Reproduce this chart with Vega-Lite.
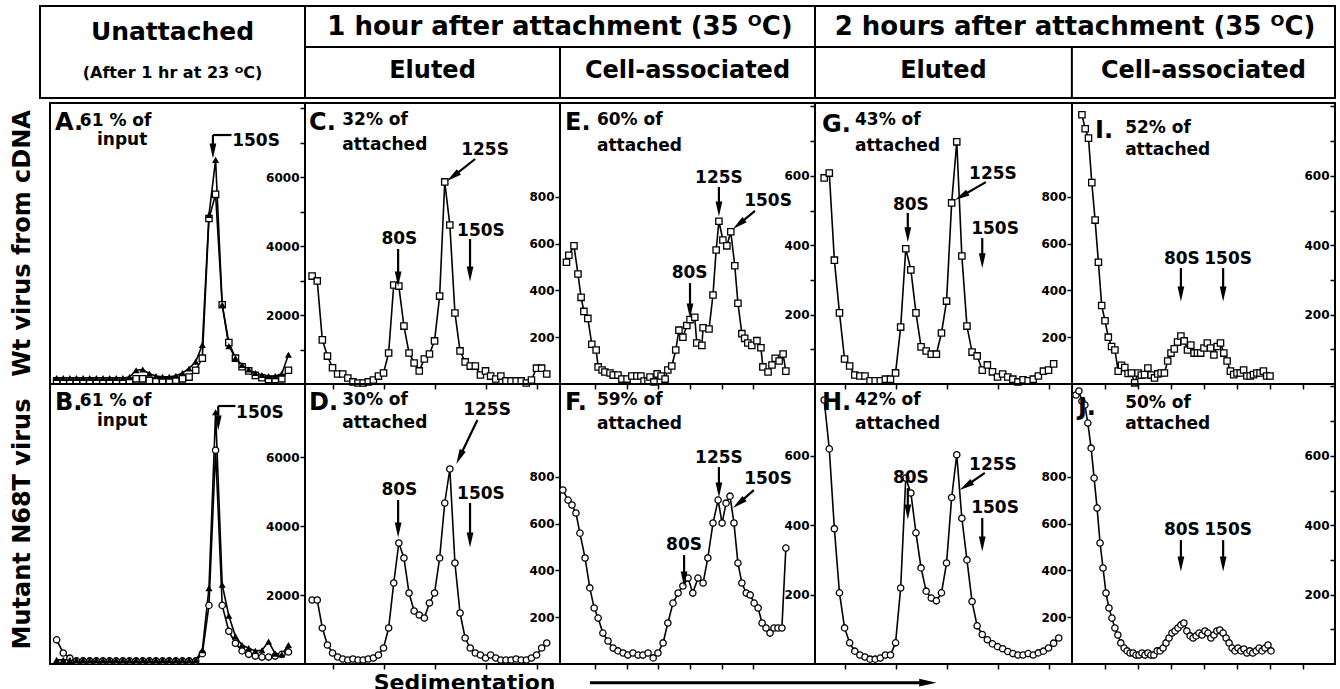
{
"$schema":"https://vega.github.io/schema/vega-lite/v6.json",
"background":"white",
"padding":{"left":0,"top":5,"right":5,"bottom":0},
"spacing":0,
"bounds":"full",
"config":{
 "view":{"stroke":"black","strokeWidth":2},
 "text":{"font":"DejaVu Sans","fontWeight":"bold","color":"black"},
 "axis":{"grid":false,"domain":false,"labelFont":"DejaVu Sans","labelFontWeight":"bold","labelFontSize":12,"labelColor":"black","tickColor":"black","tickWidth":1.5,"tickSize":5,"labelPadding":1,"labelOverlap":false}
},
"datasets":{
"pts":[
{"p":"A1","f":1,"v":175},{"p":"A1","f":2,"v":175},{"p":"A1","f":3,"v":175},{"p":"A1","f":4,"v":175},{"p":"A1","f":5,"v":175},{"p":"A1","f":6,"v":175},{"p":"A1","f":7,"v":175},{"p":"A1","f":8,"v":175},{"p":"A1","f":9,"v":175},{"p":"A1","f":10,"v":175},{"p":"A1","f":11,"v":175},{"p":"A1","f":12,"v":200},{"p":"A1","f":13,"v":400},{"p":"A1","f":14,"v":420},{"p":"A1","f":15,"v":300},{"p":"A1","f":16,"v":230},{"p":"A1","f":17,"v":210},{"p":"A1","f":18,"v":210},{"p":"A1","f":19,"v":240},{"p":"A1","f":20,"v":320},{"p":"A1","f":21,"v":450},{"p":"A1","f":22,"v":650},{"p":"A1","f":23,"v":1130},{"p":"A1","f":24,"v":4900},{"p":"A1","f":25,"v":6500},{"p":"A1","f":26,"v":2300},{"p":"A1","f":27,"v":1100},{"p":"A1","f":28,"v":750},{"p":"A1","f":29,"v":550},{"p":"A1","f":30,"v":420},{"p":"A1","f":31,"v":320},{"p":"A1","f":32,"v":260},{"p":"A1","f":33,"v":230},{"p":"A1","f":34,"v":230},{"p":"A1","f":35,"v":300},{"p":"A1","f":36,"v":850},
{"p":"A2","f":1,"v":90},{"p":"A2","f":2,"v":90},{"p":"A2","f":3,"v":90},{"p":"A2","f":4,"v":90},{"p":"A2","f":5,"v":90},{"p":"A2","f":6,"v":90},{"p":"A2","f":7,"v":90},{"p":"A2","f":8,"v":90},{"p":"A2","f":9,"v":90},{"p":"A2","f":10,"v":90},{"p":"A2","f":11,"v":90},{"p":"A2","f":12,"v":90},{"p":"A2","f":13,"v":150},{"p":"A2","f":14,"v":150},{"p":"A2","f":15,"v":100},{"p":"A2","f":16,"v":90},{"p":"A2","f":17,"v":90},{"p":"A2","f":18,"v":90},{"p":"A2","f":19,"v":110},{"p":"A2","f":20,"v":150},{"p":"A2","f":21,"v":200},{"p":"A2","f":22,"v":400},{"p":"A2","f":23,"v":750},{"p":"A2","f":24,"v":4800},{"p":"A2","f":25,"v":5500},{"p":"A2","f":26,"v":2300},{"p":"A2","f":27,"v":1200},{"p":"A2","f":28,"v":750},{"p":"A2","f":29,"v":500},{"p":"A2","f":30,"v":380},{"p":"A2","f":31,"v":250},{"p":"A2","f":32,"v":180},{"p":"A2","f":33,"v":130},{"p":"A2","f":34,"v":130},{"p":"A2","f":35,"v":150},{"p":"A2","f":36,"v":400},
{"p":"B1","f":1,"v":120},{"p":"B1","f":2,"v":120},{"p":"B1","f":3,"v":120},{"p":"B1","f":4,"v":120},{"p":"B1","f":5,"v":120},{"p":"B1","f":6,"v":120},{"p":"B1","f":7,"v":120},{"p":"B1","f":8,"v":120},{"p":"B1","f":9,"v":120},{"p":"B1","f":10,"v":120},{"p":"B1","f":11,"v":120},{"p":"B1","f":12,"v":120},{"p":"B1","f":13,"v":120},{"p":"B1","f":14,"v":120},{"p":"B1","f":15,"v":120},{"p":"B1","f":16,"v":120},{"p":"B1","f":17,"v":120},{"p":"B1","f":18,"v":120},{"p":"B1","f":19,"v":120},{"p":"B1","f":20,"v":120},{"p":"B1","f":21,"v":120},{"p":"B1","f":22,"v":120},{"p":"B1","f":23,"v":400},{"p":"B1","f":24,"v":2200},{"p":"B1","f":25,"v":7300},{"p":"B1","f":26,"v":2300},{"p":"B1","f":27,"v":1400},{"p":"B1","f":28,"v":800},{"p":"B1","f":29,"v":550},{"p":"B1","f":30,"v":460},{"p":"B1","f":31,"v":380},{"p":"B1","f":32,"v":400},{"p":"B1","f":33,"v":650},{"p":"B1","f":34,"v":300},{"p":"B1","f":35,"v":280},{"p":"B1","f":36,"v":550},
{"p":"B2","f":1,"v":700},{"p":"B2","f":2,"v":320},{"p":"B2","f":3,"v":170},{"p":"B2","f":4,"v":90},{"p":"B2","f":5,"v":90},{"p":"B2","f":6,"v":90},{"p":"B2","f":7,"v":90},{"p":"B2","f":8,"v":90},{"p":"B2","f":9,"v":90},{"p":"B2","f":10,"v":90},{"p":"B2","f":11,"v":90},{"p":"B2","f":12,"v":90},{"p":"B2","f":13,"v":90},{"p":"B2","f":14,"v":90},{"p":"B2","f":15,"v":90},{"p":"B2","f":16,"v":90},{"p":"B2","f":17,"v":90},{"p":"B2","f":18,"v":90},{"p":"B2","f":19,"v":90},{"p":"B2","f":20,"v":90},{"p":"B2","f":21,"v":90},{"p":"B2","f":22,"v":90},{"p":"B2","f":23,"v":300},{"p":"B2","f":24,"v":1700},{"p":"B2","f":25,"v":6200},{"p":"B2","f":26,"v":1700},{"p":"B2","f":27,"v":950},{"p":"B2","f":28,"v":600},{"p":"B2","f":29,"v":380},{"p":"B2","f":30,"v":280},{"p":"B2","f":31,"v":230},{"p":"B2","f":32,"v":200},{"p":"B2","f":33,"v":200},{"p":"B2","f":34,"v":230},{"p":"B2","f":35,"v":280},{"p":"B2","f":36,"v":350},
{"p":"C","f":1,"v":3130},{"p":"C","f":2,"v":2990},{"p":"C","f":3,"v":1280},{"p":"C","f":4,"v":810},{"p":"C","f":5,"v":470},{"p":"C","f":6,"v":290},{"p":"C","f":7,"v":290},{"p":"C","f":8,"v":175},{"p":"C","f":9,"v":60},{"p":"C","f":10,"v":30},{"p":"C","f":11,"v":30},{"p":"C","f":12,"v":60},{"p":"C","f":13,"v":115},{"p":"C","f":14,"v":230},{"p":"C","f":15,"v":320},{"p":"C","f":16,"v":900},{"p":"C","f":17,"v":2870},{"p":"C","f":18,"v":2840},{"p":"C","f":19,"v":1680},{"p":"C","f":20,"v":900},{"p":"C","f":21,"v":610},{"p":"C","f":22,"v":380},{"p":"C","f":23,"v":725},{"p":"C","f":24,"v":870},{"p":"C","f":25,"v":1250},{"p":"C","f":26,"v":2550},{"p":"C","f":27,"v":5860},{"p":"C","f":28,"v":4610},{"p":"C","f":29,"v":2060},{"p":"C","f":30,"v":960},{"p":"C","f":31,"v":640},{"p":"C","f":32,"v":520},{"p":"C","f":33,"v":520},{"p":"C","f":34,"v":260},{"p":"C","f":35,"v":380},{"p":"C","f":36,"v":230},{"p":"C","f":37,"v":145},{"p":"C","f":38,"v":230},{"p":"C","f":39,"v":90},{"p":"C","f":40,"v":90},{"p":"C","f":41,"v":90},{"p":"C","f":42,"v":90},{"p":"C","f":43,"v":30},{"p":"C","f":44,"v":115},{"p":"C","f":45,"v":460},{"p":"C","f":46,"v":460},{"p":"C","f":47,"v":290},
{"p":"D","f":1,"v":1856},{"p":"D","f":2,"v":1856},{"p":"D","f":3,"v":1044},{"p":"D","f":4,"v":551},{"p":"D","f":5,"v":319},{"p":"D","f":6,"v":203},{"p":"D","f":7,"v":145},{"p":"D","f":8,"v":116},{"p":"D","f":9,"v":145},{"p":"D","f":10,"v":116},{"p":"D","f":11,"v":116},{"p":"D","f":12,"v":145},{"p":"D","f":13,"v":174},{"p":"D","f":14,"v":261},{"p":"D","f":15,"v":464},{"p":"D","f":16,"v":1044},{"p":"D","f":17,"v":2349},{"p":"D","f":18,"v":3509},{"p":"D","f":19,"v":3074},{"p":"D","f":20,"v":2059},{"p":"D","f":21,"v":1537},{"p":"D","f":22,"v":1421},{"p":"D","f":23,"v":1334},{"p":"D","f":24,"v":1769},{"p":"D","f":25,"v":2059},{"p":"D","f":26,"v":3074},{"p":"D","f":27,"v":4669},{"p":"D","f":28,"v":5655},{"p":"D","f":29,"v":2929},{"p":"D","f":30,"v":1479},{"p":"D","f":31,"v":754},{"p":"D","f":32,"v":464},{"p":"D","f":33,"v":319},{"p":"D","f":34,"v":261},{"p":"D","f":35,"v":174},{"p":"D","f":36,"v":261},{"p":"D","f":37,"v":174},{"p":"D","f":38,"v":116},{"p":"D","f":39,"v":116},{"p":"D","f":40,"v":116},{"p":"D","f":41,"v":145},{"p":"D","f":42,"v":116},{"p":"D","f":43,"v":116},{"p":"D","f":44,"v":174},{"p":"D","f":45,"v":261},{"p":"D","f":46,"v":464},{"p":"D","f":47,"v":609},
{"p":"E","f":0.8,"v":520},{"p":"E","f":1.4,"v":550},{"p":"E","f":2.7,"v":590},{"p":"E","f":3.7,"v":470},{"p":"E","f":4.5,"v":370},{"p":"E","f":5.2,"v":310},{"p":"E","f":6.2,"v":280},{"p":"E","f":7.2,"v":170},{"p":"E","f":8.3,"v":145},{"p":"E","f":8.8,"v":73},{"p":"E","f":9.8,"v":60},{"p":"E","f":10.5,"v":51},{"p":"E","f":11.8,"v":47},{"p":"E","f":12.6,"v":38},{"p":"E","f":13.8,"v":38},{"p":"E","f":14.8,"v":21},{"p":"E","f":16.1,"v":21},{"p":"E","f":17.3,"v":34},{"p":"E","f":18.6,"v":34},{"p":"E","f":19.6,"v":34},{"p":"E","f":20.4,"v":13},{"p":"E","f":21.4,"v":13},{"p":"E","f":21.9,"v":30},{"p":"E","f":22.9,"v":9},{"p":"E","f":23.7,"v":43},{"p":"E","f":24.7,"v":34},{"p":"E","f":25.7,"v":21},{"p":"E","f":26.4,"v":60},{"p":"E","f":27.4,"v":77},{"p":"E","f":28.4,"v":145},{"p":"E","f":29.2,"v":230},{"p":"E","f":30.2,"v":200},{"p":"E","f":31.2,"v":250},{"p":"E","f":32,"v":275},{"p":"E","f":33.2,"v":285},{"p":"E","f":33.7,"v":175},{"p":"E","f":35,"v":165},{"p":"E","f":35.3,"v":240},{"p":"E","f":36.8,"v":235},{"p":"E","f":37.8,"v":380},{"p":"E","f":38.6,"v":572},{"p":"E","f":39.3,"v":695},{"p":"E","f":40.3,"v":615},{"p":"E","f":41.3,"v":590},{"p":"E","f":42.3,"v":650},{"p":"E","f":43.3,"v":505},{"p":"E","f":44.1,"v":345},{"p":"E","f":45.1,"v":215},{"p":"E","f":45.8,"v":195},{"p":"E","f":46.6,"v":175},{"p":"E","f":47.6,"v":165},{"p":"E","f":48.9,"v":185},{"p":"E","f":49.9,"v":155},{"p":"E","f":50.4,"v":73},{"p":"E","f":51.7,"v":51},{"p":"E","f":52.7,"v":81},{"p":"E","f":53.5,"v":110},{"p":"E","f":54.5,"v":98},{"p":"E","f":55.5,"v":128},{"p":"E","f":56.2,"v":55},
{"p":"F","f":-0.1,"v":743},{"p":"F","f":1.2,"v":700},{"p":"F","f":2.2,"v":679},{"p":"F","f":3.2,"v":645},{"p":"F","f":4.2,"v":559},{"p":"F","f":5.5,"v":453},{"p":"F","f":6.7,"v":325},{"p":"F","f":7.8,"v":239},{"p":"F","f":8.8,"v":196},{"p":"F","f":10,"v":132},{"p":"F","f":11.3,"v":98},{"p":"F","f":12.6,"v":68},{"p":"F","f":13.8,"v":56},{"p":"F","f":15.1,"v":47},{"p":"F","f":16.3,"v":38},{"p":"F","f":17.6,"v":47},{"p":"F","f":18.9,"v":38},{"p":"F","f":20.1,"v":38},{"p":"F","f":21.4,"v":47},{"p":"F","f":22.7,"v":26},{"p":"F","f":23.9,"v":47},{"p":"F","f":25.2,"v":90},{"p":"F","f":26.4,"v":175},{"p":"F","f":27.7,"v":260},{"p":"F","f":29,"v":303},{"p":"F","f":30.2,"v":333},{"p":"F","f":31.5,"v":367},{"p":"F","f":32.7,"v":303},{"p":"F","f":34,"v":367},{"p":"F","f":35.3,"v":346},{"p":"F","f":36.5,"v":453},{"p":"F","f":37.8,"v":602},{"p":"F","f":39.1,"v":700},{"p":"F","f":40.1,"v":602},{"p":"F","f":41.1,"v":687},{"p":"F","f":42.1,"v":717},{"p":"F","f":43.1,"v":602},{"p":"F","f":44.1,"v":431},{"p":"F","f":45.1,"v":346},{"p":"F","f":46.2,"v":303},{"p":"F","f":47.2,"v":295},{"p":"F","f":48.2,"v":260},{"p":"F","f":49.2,"v":239},{"p":"F","f":50.2,"v":175},{"p":"F","f":51.2,"v":154},{"p":"F","f":52.2,"v":132},{"p":"F","f":53.2,"v":154},{"p":"F","f":54.2,"v":154},{"p":"F","f":55.2,"v":154},{"p":"F","f":56.2,"v":495},
{"p":"G","f":1,"v":594},{"p":"G","f":2,"v":608},{"p":"G","f":3,"v":357},{"p":"G","f":4,"v":205},{"p":"G","f":5,"v":72},{"p":"G","f":6,"v":52},{"p":"G","f":7,"v":26},{"p":"G","f":8,"v":23},{"p":"G","f":9,"v":23},{"p":"G","f":10,"v":9},{"p":"G","f":11,"v":9},{"p":"G","f":12,"v":9},{"p":"G","f":13,"v":14},{"p":"G","f":14,"v":14},{"p":"G","f":15,"v":32},{"p":"G","f":16,"v":164},{"p":"G","f":17,"v":390},{"p":"G","f":18,"v":329},{"p":"G","f":19,"v":205},{"p":"G","f":20,"v":107},{"p":"G","f":21,"v":95},{"p":"G","f":22,"v":86},{"p":"G","f":23,"v":86},{"p":"G","f":24,"v":147},{"p":"G","f":25,"v":239},{"p":"G","f":26,"v":522},{"p":"G","f":27,"v":698},{"p":"G","f":28,"v":369},{"p":"G","f":29,"v":167},{"p":"G","f":30,"v":92},{"p":"G","f":31,"v":81},{"p":"G","f":32,"v":40},{"p":"G","f":33,"v":55},{"p":"G","f":34,"v":35},{"p":"G","f":35,"v":20},{"p":"G","f":36,"v":29},{"p":"G","f":37,"v":20},{"p":"G","f":38,"v":14},{"p":"G","f":39,"v":6},{"p":"G","f":40,"v":12},{"p":"G","f":41,"v":9},{"p":"G","f":42,"v":14},{"p":"G","f":43,"v":23},{"p":"G","f":44,"v":37},{"p":"G","f":45,"v":40},{"p":"G","f":46,"v":58},
{"p":"H","f":1,"v":761},{"p":"H","f":2,"v":620},{"p":"H","f":3,"v":390},{"p":"H","f":4,"v":205},{"p":"H","f":5,"v":104},{"p":"H","f":6,"v":61},{"p":"H","f":7,"v":37},{"p":"H","f":8,"v":26},{"p":"H","f":9,"v":20},{"p":"H","f":10,"v":14},{"p":"H","f":11,"v":14},{"p":"H","f":12,"v":17},{"p":"H","f":13,"v":26},{"p":"H","f":14,"v":26},{"p":"H","f":15,"v":61},{"p":"H","f":16,"v":219},{"p":"H","f":17,"v":536},{"p":"H","f":18,"v":493},{"p":"H","f":19,"v":378},{"p":"H","f":20,"v":277},{"p":"H","f":21,"v":210},{"p":"H","f":22,"v":190},{"p":"H","f":23,"v":182},{"p":"H","f":24,"v":205},{"p":"H","f":25,"v":291},{"p":"H","f":26,"v":480},{"p":"H","f":27,"v":603},{"p":"H","f":28,"v":420},{"p":"H","f":29,"v":300},{"p":"H","f":30,"v":180},{"p":"H","f":31,"v":110},{"p":"H","f":32,"v":85},{"p":"H","f":33,"v":70},{"p":"H","f":34,"v":58},{"p":"H","f":35,"v":50},{"p":"H","f":36,"v":44},{"p":"H","f":37,"v":36},{"p":"H","f":38,"v":30},{"p":"H","f":39,"v":26},{"p":"H","f":40,"v":26},{"p":"H","f":41,"v":30},{"p":"H","f":42,"v":26},{"p":"H","f":43,"v":32},{"p":"H","f":44,"v":37},{"p":"H","f":45,"v":46},{"p":"H","f":46,"v":60},{"p":"H","f":47,"v":75},
{"p":"I","f":3,"v":1150},{"p":"I","f":4,"v":1090},{"p":"I","f":5,"v":1050},{"p":"I","f":6,"v":860},{"p":"I","f":7,"v":700},{"p":"I","f":8,"v":520},{"p":"I","f":9,"v":335},{"p":"I","f":10,"v":270},{"p":"I","f":11,"v":200},{"p":"I","f":12,"v":160},{"p":"I","f":13,"v":145},{"p":"I","f":14,"v":55},{"p":"I","f":15,"v":80},{"p":"I","f":16,"v":70},{"p":"I","f":17,"v":45},{"p":"I","f":18,"v":47},{"p":"I","f":19,"v":5},{"p":"I","f":20,"v":47},{"p":"I","f":21,"v":38},{"p":"I","f":22,"v":40},{"p":"I","f":23,"v":68},{"p":"I","f":24,"v":38},{"p":"I","f":25,"v":26},{"p":"I","f":26,"v":43},{"p":"I","f":27,"v":47},{"p":"I","f":28,"v":47},{"p":"I","f":29,"v":98},{"p":"I","f":30,"v":132},{"p":"I","f":31,"v":150},{"p":"I","f":32,"v":179},{"p":"I","f":33,"v":205},{"p":"I","f":34,"v":184},{"p":"I","f":35,"v":145},{"p":"I","f":36,"v":166},{"p":"I","f":37,"v":132},{"p":"I","f":38,"v":132},{"p":"I","f":39,"v":132},{"p":"I","f":40,"v":154},{"p":"I","f":41,"v":175},{"p":"I","f":42,"v":154},{"p":"I","f":43,"v":124},{"p":"I","f":44,"v":160},{"p":"I","f":45,"v":175},{"p":"I","f":46,"v":132},{"p":"I","f":47,"v":98},{"p":"I","f":48,"v":55},{"p":"I","f":49,"v":40},{"p":"I","f":50,"v":47},{"p":"I","f":51,"v":47},{"p":"I","f":52,"v":60},{"p":"I","f":53,"v":34},{"p":"I","f":54,"v":34},{"p":"I","f":55,"v":40},{"p":"I","f":56,"v":47},{"p":"I","f":57,"v":47},{"p":"I","f":58,"v":55},{"p":"I","f":59,"v":34},{"p":"I","f":60,"v":34},
{"p":"J","f":1.2,"v":1149},{"p":"J","f":2.1,"v":1166},{"p":"J","f":3,"v":1123},{"p":"J","f":3.9,"v":1106},{"p":"J","f":4.8,"v":1029},{"p":"J","f":5.8,"v":922},{"p":"J","f":6.7,"v":794},{"p":"J","f":7.6,"v":666},{"p":"J","f":8.5,"v":517},{"p":"J","f":9.4,"v":410},{"p":"J","f":10.3,"v":303},{"p":"J","f":11.2,"v":239},{"p":"J","f":12.1,"v":196},{"p":"J","f":13,"v":154},{"p":"J","f":13.9,"v":124},{"p":"J","f":14.8,"v":90},{"p":"J","f":15.8,"v":68},{"p":"J","f":16.7,"v":56},{"p":"J","f":17.6,"v":47},{"p":"J","f":18.5,"v":47},{"p":"J","f":19.4,"v":38},{"p":"J","f":20.3,"v":38},{"p":"J","f":21.2,"v":47},{"p":"J","f":22.1,"v":38},{"p":"J","f":23,"v":47},{"p":"J","f":23.9,"v":38},{"p":"J","f":24.8,"v":38},{"p":"J","f":25.8,"v":56},{"p":"J","f":26.7,"v":56},{"p":"J","f":27.6,"v":68},{"p":"J","f":28.5,"v":90},{"p":"J","f":29.4,"v":111},{"p":"J","f":30.3,"v":132},{"p":"J","f":31.2,"v":141},{"p":"J","f":32.1,"v":154},{"p":"J","f":33,"v":167},{"p":"J","f":33.9,"v":175},{"p":"J","f":34.8,"v":141},{"p":"J","f":35.8,"v":120},{"p":"J","f":36.7,"v":111},{"p":"J","f":37.6,"v":120},{"p":"J","f":38.5,"v":132},{"p":"J","f":39.4,"v":124},{"p":"J","f":40.3,"v":141},{"p":"J","f":41.2,"v":132},{"p":"J","f":42.1,"v":111},{"p":"J","f":43,"v":124},{"p":"J","f":43.9,"v":141},{"p":"J","f":44.8,"v":145},{"p":"J","f":45.8,"v":132},{"p":"J","f":46.7,"v":111},{"p":"J","f":47.6,"v":90},{"p":"J","f":48.5,"v":68},{"p":"J","f":49.4,"v":56},{"p":"J","f":50.3,"v":68},{"p":"J","f":51.2,"v":56},{"p":"J","f":52.1,"v":64},{"p":"J","f":53,"v":47},{"p":"J","f":53.9,"v":56},{"p":"J","f":54.8,"v":47},{"p":"J","f":55.8,"v":56},{"p":"J","f":56.7,"v":68},{"p":"J","f":57.6,"v":56},{"p":"J","f":58.5,"v":68},{"p":"J","f":59.4,"v":81},{"p":"J","f":60.3,"v":56}
],
"ann":[
{"p":"A","k":"letter","f":0.76,"v":7570,"t":"A."},{"p":"A","k":"note","f":4.5,"v":7630,"t":"61 % of"},{"p":"A","k":"note","f":7.1,"v":7080,"t":"input"},{"p":"A","k":"peakl","f":27.5,"v":7050,"t":"150S"},{"p":"A","k":"rule","f":24.6,"v":7220,"f2":27.4,"v2":7220},{"p":"A","k":"rule","f":24.6,"v":7220,"f2":24.6,"v2":6900},{"p":"A","k":"down","f":24.6,"v":6760},
{"p":"B","k":"letter","f":0.76,"v":7569,"t":"B."},{"p":"B","k":"note","f":4.5,"v":7627,"t":"61 % of"},{"p":"B","k":"note","f":7.1,"v":7047,"t":"input"},{"p":"B","k":"peakl","f":28.1,"v":7279,"t":"150S"},{"p":"B","k":"rule","f":25.4,"v":7482,"f2":28.0,"v2":7482},{"p":"B","k":"rule","f":25.4,"v":7482,"f2":25.4,"v2":7200},{"p":"B","k":"down","f":25.4,"v":6989},
{"p":"C","k":"letter","f":0.4,"v":7569,"t":"C."},{"p":"C","k":"note","f":6.9,"v":7656,"t":"32% of"},{"p":"C","k":"note","f":6.9,"v":6931,"t":"attached"},{"p":"C","k":"peak","f":34.9,"v":6786,"t":"125S"},{"p":"C","k":"peak","f":18.1,"v":4205,"t":"80S"},{"p":"C","k":"peak","f":34.1,"v":4437,"t":"150S"},{"p":"C","k":"rule","f":32.96,"v":6525,"f2":28.6,"v2":6017},{"p":"C","k":"diag","f":28.6,"v":6017},{"p":"C","k":"rule","f":17.86,"v":3915,"f2":17.86,"v2":3074},{"p":"C","k":"down","f":17.86,"v":3045},{"p":"C","k":"rule","f":31.96,"v":4205,"f2":31.96,"v2":3219},{"p":"C","k":"down","f":31.96,"v":3190},
{"p":"D","k":"letter","f":0.4,"v":7569,"t":"D."},{"p":"D","k":"note","f":6.9,"v":7656,"t":"30% of"},{"p":"D","k":"note","f":6.9,"v":6989,"t":"attached"},{"p":"D","k":"peak","f":35.3,"v":7366,"t":"125S"},{"p":"D","k":"peak","f":18.1,"v":5046,"t":"80S"},{"p":"D","k":"peak","f":34.1,"v":4930,"t":"150S"},{"p":"D","k":"rule","f":33.4,"v":7076,"f2":29.9,"v2":5997},{"p":"D","k":"diag","f":29.9,"v":5997},{"p":"D","k":"rule","f":17.86,"v":4756,"f2":17.86,"v2":3944},{"p":"D","k":"down","f":17.86,"v":3886},{"p":"D","k":"rule","f":31.96,"v":4669,"f2":31.96,"v2":3654},{"p":"D","k":"down","f":31.96,"v":3596},
{"p":"E","k":"letter","f":0.43,"v":1114,"t":"E."},{"p":"E","k":"note","f":8.5,"v":1127,"t":"60% of"},{"p":"E","k":"note","f":8.5,"v":1016,"t":"attached"},{"p":"E","k":"peak","f":39.3,"v":880,"t":"125S"},{"p":"E","k":"peak","f":51.7,"v":781,"t":"150S"},{"p":"E","k":"peak","f":31.9,"v":474,"t":"80S"},{"p":"E","k":"rule","f":39.3,"v":841,"f2":39.3,"v2":752},{"p":"E","k":"down","f":39.3,"v":747},{"p":"E","k":"rule","f":48.4,"v":739,"f2":44.3,"v2":682},{"p":"E","k":"diag","f":44.3,"v":682},{"p":"E","k":"rule","f":32.0,"v":431,"f2":32.0,"v2":316},{"p":"E","k":"down","f":32.0,"v":312},
{"p":"F","k":"letter","f":0.43,"v":1114,"t":"F."},{"p":"F","k":"note","f":8.5,"v":1127,"t":"59% of"},{"p":"F","k":"note","f":8.5,"v":1025,"t":"attached"},{"p":"F","k":"peak","f":39.3,"v":880,"t":"125S"},{"p":"F","k":"peak","f":51.7,"v":790,"t":"150S"},{"p":"F","k":"peak","f":30.5,"v":508,"t":"80S"},{"p":"F","k":"rule","f":39.3,"v":841,"f2":39.3,"v2":747},{"p":"F","k":"down","f":39.3,"v":743},{"p":"F","k":"rule","f":48.1,"v":743,"f2":44.3,"v2":686},{"p":"F","k":"diag","f":44.3,"v":686},{"p":"F","k":"rule","f":30.5,"v":465,"f2":30.5,"v2":367},{"p":"F","k":"down","f":30.5,"v":363},
{"p":"G","k":"letter","f":0.57,"v":747,"t":"G."},{"p":"G","k":"note","f":7.04,"v":761,"t":"43% of"},{"p":"G","k":"note","f":7.04,"v":686,"t":"attached"},{"p":"G","k":"peak","f":34.1,"v":605,"t":"125S"},{"p":"G","k":"peak","f":18.0,"v":516,"t":"80S"},{"p":"G","k":"peak","f":34.5,"v":447,"t":"150S"},{"p":"G","k":"rule","f":32.7,"v":582,"f2":27.9,"v2":541},{"p":"G","k":"diag","f":27.9,"v":541},{"p":"G","k":"rule","f":17.4,"v":493,"f2":17.4,"v2":432},{"p":"G","k":"down","f":17.4,"v":430},{"p":"G","k":"rule","f":32.0,"v":421,"f2":32.0,"v2":357},{"p":"G","k":"down","f":32.0,"v":355},
{"p":"H","k":"letter","f":0.57,"v":752,"t":"H."},{"p":"H","k":"note","f":7.04,"v":761,"t":"42% of"},{"p":"H","k":"note","f":7.04,"v":692,"t":"attached"},{"p":"H","k":"peak","f":18.0,"v":536,"t":"80S"},{"p":"H","k":"peak","f":34.1,"v":574,"t":"125S"},{"p":"H","k":"peak","f":34.5,"v":450,"t":"150S"},{"p":"H","k":"rule","f":17.4,"v":507,"f2":17.4,"v2":441},{"p":"H","k":"down","f":17.4,"v":438},{"p":"H","k":"rule","f":32.5,"v":551,"f2":28.8,"v2":513},{"p":"H","k":"diag","f":28.8,"v":513},{"p":"H","k":"rule","f":32.0,"v":421,"f2":32.0,"v2":349},{"p":"H","k":"down","f":32.0,"v":346},
{"p":"I","k":"letter","f":7.0,"v":1080,"t":"I."},{"p":"I","k":"note","f":16.1,"v":1093,"t":"52% of"},{"p":"I","k":"note","f":16.1,"v":999,"t":"attached"},{"p":"I","k":"peak","f":33.3,"v":534,"t":"80S"},{"p":"I","k":"peak","f":47.3,"v":534,"t":"150S"},{"p":"I","k":"rule","f":33.0,"v":495,"f2":33.0,"v2":389},{"p":"I","k":"down","f":33.0,"v":384},{"p":"I","k":"rule","f":45.8,"v":495,"f2":45.8,"v2":389},{"p":"I","k":"down","f":45.8,"v":384},
{"p":"J","k":"letter","f":1.8,"v":1093,"t":"J."},{"p":"J","k":"note","f":16.1,"v":1114,"t":"50% of"},{"p":"J","k":"note","f":16.1,"v":1025,"t":"attached"},{"p":"J","k":"peak","f":33.3,"v":572,"t":"80S"},{"p":"J","k":"peak","f":47.3,"v":572,"t":"150S"},{"p":"J","k":"rule","f":33.0,"v":529,"f2":33.0,"v2":431},{"p":"J","k":"down","f":33.0,"v":427},{"p":"J","k":"rule","f":45.8,"v":529,"f2":45.8,"v2":431},{"p":"J","k":"down","f":45.8,"v":427}
],
"foot":[{"k":"text","p":34.8,"q":0,"t":"Sedimentation"},{"k":"rule","p":44.2,"p2":69.0,"q":0},{"k":"head","p":69.5,"q":0}]
},
"vconcat":[
{"hconcat":[
 {"width":40,"height":92,"view":{"stroke":null},"data":{"values":[{"t":""}]},"mark":{"type":"text"},"encoding":{"text":{"field":"t"}}},
 {"width":265,"height":92,"view":{"stroke":null},"data":{"values":[{"a":"Unattached","b":"(After 1 hr at 23 ᴼC)"}]},"layer":[
   {"mark":{"type":"rect","fillOpacity":0,"stroke":"black","strokeWidth":2},"encoding":{"x":{"datum":0,"type":"quantitative","scale":{"domain":[0,1],"nice":false,"zero":false},"axis":null},"x2":{"datum":1},"y":{"datum":0,"type":"quantitative","scale":{"domain":[0,1],"nice":false,"zero":false},"axis":null},"y2":{"datum":1}}},
   {"mark":{"type":"text","fontSize":25},"encoding":{"x":{"datum":0.5,"type":"quantitative"},"y":{"datum":0.72,"type":"quantitative"},"text":{"field":"a"}}},
   {"mark":{"type":"text","fontSize":16},"encoding":{"x":{"datum":0.5,"type":"quantitative"},"y":{"datum":0.27,"type":"quantitative"},"text":{"field":"b"}}}]},
 {"width":510,"height":92,"view":{"stroke":null},"data":{"values":[{"a":"1 hour after attachment (35 ᴼC)","b":"Eluted","c":"Cell-associated"}]},"layer":[
   {"mark":{"type":"rect","fillOpacity":0,"stroke":"black","strokeWidth":2},"encoding":{"x":{"datum":0,"type":"quantitative","scale":{"domain":[0,1],"nice":false,"zero":false},"axis":null},"x2":{"datum":1},"y":{"datum":0,"type":"quantitative","scale":{"domain":[0,1],"nice":false,"zero":false},"axis":null},"y2":{"datum":1}}},
   {"mark":{"type":"rule","color":"black","strokeWidth":2},"encoding":{"x":{"datum":0,"type":"quantitative"},"x2":{"datum":1},"y":{"datum":0.554,"type":"quantitative"}}},
   {"mark":{"type":"rule","color":"black","strokeWidth":2},"encoding":{"x":{"datum":0.5,"type":"quantitative"},"y":{"datum":0,"type":"quantitative"},"y2":{"datum":0.554}}},
   {"mark":{"type":"text","fontSize":26},"encoding":{"x":{"datum":0.5,"type":"quantitative"},"y":{"datum":0.77,"type":"quantitative"},"text":{"field":"a"}}},
   {"mark":{"type":"text","fontSize":24},"encoding":{"x":{"datum":0.25,"type":"quantitative"},"y":{"datum":0.29,"type":"quantitative"},"text":{"field":"b"}}},
   {"mark":{"type":"text","fontSize":24},"encoding":{"x":{"datum":0.75,"type":"quantitative"},"y":{"datum":0.29,"type":"quantitative"},"text":{"field":"c"}}}]},
 {"width":520,"height":92,"view":{"stroke":null},"data":{"values":[{"a":"2 hours after attachment (35 ᴼC)","b":"Eluted","c":"Cell-associated"}]},"layer":[
   {"mark":{"type":"rect","fillOpacity":0,"stroke":"black","strokeWidth":2},"encoding":{"x":{"datum":0,"type":"quantitative","scale":{"domain":[0,1],"nice":false,"zero":false},"axis":null},"x2":{"datum":1},"y":{"datum":0,"type":"quantitative","scale":{"domain":[0,1],"nice":false,"zero":false},"axis":null},"y2":{"datum":1}}},
   {"mark":{"type":"rule","color":"black","strokeWidth":2},"encoding":{"x":{"datum":0,"type":"quantitative"},"x2":{"datum":1},"y":{"datum":0.554,"type":"quantitative"}}},
   {"mark":{"type":"rule","color":"black","strokeWidth":2},"encoding":{"x":{"datum":0.494,"type":"quantitative"},"y":{"datum":0,"type":"quantitative"},"y2":{"datum":0.554}}},
   {"mark":{"type":"text","fontSize":26},"encoding":{"x":{"datum":0.5,"type":"quantitative"},"y":{"datum":0.77,"type":"quantitative"},"text":{"field":"a"}}},
   {"mark":{"type":"text","fontSize":24},"encoding":{"x":{"datum":0.247,"type":"quantitative"},"y":{"datum":0.29,"type":"quantitative"},"text":{"field":"b"}}},
   {"mark":{"type":"text","fontSize":24},"encoding":{"x":{"datum":0.747,"type":"quantitative"},"y":{"datum":0.29,"type":"quantitative"},"text":{"field":"c"}}}]}
],"spacing":0,"bounds":"flush"},
{"columns":6,"spacing":0,"bounds":"flush","concat":[
 {"width":50,"height":281,"view":{"stroke":null},"data":{"values":[{"t":"Wt virus from cDNA"}]},"mark":{"type":"text","angle":270,"fontSize":24,"dy":-2},"encoding":{"text":{"field":"t"}}},
 {"width":255,"height":281,"layer":[
  {"data":{"name":"pts"},"transform":[{"filter":"datum.p=='A1'"}],"mark":{"type":"line","color":"black","strokeWidth":1.6},"encoding":{"x":{"field":"f","type":"quantitative","scale":{"domain":[0,38.5],"nice":false,"zero":false},"axis":null},"y":{"field":"v","type":"quantitative","scale":{"domain":[0,8149],"nice":false,"zero":false},"axis":null}}},
  {"data":{"name":"pts"},"transform":[{"filter":"datum.p=='A2'"}],"mark":{"type":"line","color":"black","strokeWidth":1.6},"encoding":{"x":{"field":"f","type":"quantitative"},"y":{"field":"v","type":"quantitative"}}},
  {"data":{"name":"pts"},"transform":[{"filter":"datum.p=='A2'"}],"mark":{"type":"point","shape":"square","filled":true,"fill":"white","stroke":"black","strokeWidth":1.3,"size":40,"opacity":1},"encoding":{"x":{"field":"f","type":"quantitative"},"y":{"field":"v","type":"quantitative"}}},
  {"data":{"name":"pts"},"transform":[{"filter":"datum.p=='A1'"}],"mark":{"type":"point","shape":"triangle-up","filled":true,"color":"black","size":50,"opacity":1},"encoding":{"x":{"field":"f","type":"quantitative"},"y":{"field":"v","type":"quantitative"}}},
  {"data":{"name":"ann"},"transform":[{"filter":"datum.p=='A' && datum.k=='rule'"}],"mark":{"type":"rule","color":"black","strokeWidth":2.2},"encoding":{"x":{"field":"f","type":"quantitative"},"x2":{"field":"f2"},"y":{"field":"v","type":"quantitative"},"y2":{"field":"v2"}}},
  {"data":{"name":"ann"},"transform":[{"filter":"datum.p=='A' && datum.k=='down'"}],"mark":{"type":"point","shape":"M-0.45,-1L0.45,-1L0,1Z","filled":true,"color":"black","size":225,"opacity":1},"encoding":{"x":{"field":"f","type":"quantitative"},"y":{"field":"v","type":"quantitative"}}},
  {"data":{"name":"ann"},"transform":[{"filter":"datum.p=='A' && datum.k=='letter'"}],"mark":{"type":"text","align":"left","fontSize":24},"encoding":{"x":{"field":"f","type":"quantitative"},"y":{"field":"v","type":"quantitative"},"text":{"field":"t"}}},
  {"data":{"name":"ann"},"transform":[{"filter":"datum.p=='A' && datum.k=='note'"}],"mark":{"type":"text","align":"left","fontSize":17},"encoding":{"x":{"field":"f","type":"quantitative"},"y":{"field":"v","type":"quantitative"},"text":{"field":"t"}}},
  {"data":{"name":"ann"},"transform":[{"filter":"datum.p=='A' && datum.k=='peakl'"}],"mark":{"type":"text","align":"left","fontSize":17},"encoding":{"x":{"field":"f","type":"quantitative"},"y":{"field":"v","type":"quantitative"},"text":{"field":"t"}}}
 ]},
 {"width":255,"height":281,"layer":[
  {"data":{"name":"pts"},"transform":[{"filter":"datum.p=='C'"}],"mark":{"type":"line","color":"black","strokeWidth":1.6},"encoding":{"x":{"field":"f","type":"quantitative","scale":{"domain":[-0.4,49.6],"nice":false,"zero":false},"axis":{"values":[5,10,15,20,25,30,35,40,45],"labels":false,"title":null}},"y":{"field":"v","type":"quantitative","scale":{"domain":[0,8149],"nice":false,"zero":false},"axis":{"values":[1000,2000,3000,4000,5000,6000,7000,8000],"format":"d","labelExpr":"datum.value % 2000 == 0 && datum.value < 8000 ? datum.label : ''","title":null}}}},
  {"data":{"name":"pts"},"transform":[{"filter":"datum.p=='C'"}],"mark":{"type":"point","shape":"square","filled":true,"fill":"white","stroke":"black","strokeWidth":1.3,"size":40,"opacity":1},"encoding":{"x":{"field":"f","type":"quantitative"},"y":{"field":"v","type":"quantitative"}}},
  {"data":{"name":"ann"},"transform":[{"filter":"datum.p=='C' && datum.k=='rule'"}],"mark":{"type":"rule","color":"black","strokeWidth":2.2},"encoding":{"x":{"field":"f","type":"quantitative"},"x2":{"field":"f2"},"y":{"field":"v","type":"quantitative"},"y2":{"field":"v2"}}},
  {"data":{"name":"ann"},"transform":[{"filter":"datum.p=='C' && datum.k=='down'"}],"mark":{"type":"point","shape":"M-0.45,-1L0.45,-1L0,1Z","filled":true,"color":"black","size":225,"opacity":1},"encoding":{"x":{"field":"f","type":"quantitative"},"y":{"field":"v","type":"quantitative"}}},
  {"data":{"name":"ann"},"transform":[{"filter":"datum.p=='C' && datum.k=='diag'"}],"mark":{"type":"point","shape":"M-0.45,-1L0.45,-1L0,1Z","filled":true,"color":"black","size":225,"opacity":1,"angle":53},"encoding":{"x":{"field":"f","type":"quantitative"},"y":{"field":"v","type":"quantitative"}}},
  {"data":{"name":"ann"},"transform":[{"filter":"datum.p=='C' && datum.k=='letter'"}],"mark":{"type":"text","align":"left","fontSize":24},"encoding":{"x":{"field":"f","type":"quantitative"},"y":{"field":"v","type":"quantitative"},"text":{"field":"t"}}},
  {"data":{"name":"ann"},"transform":[{"filter":"datum.p=='C' && datum.k=='note'"}],"mark":{"type":"text","align":"left","fontSize":17},"encoding":{"x":{"field":"f","type":"quantitative"},"y":{"field":"v","type":"quantitative"},"text":{"field":"t"}}},
  {"data":{"name":"ann"},"transform":[{"filter":"datum.p=='C' && datum.k=='peak'"}],"mark":{"type":"text","align":"center","fontSize":17},"encoding":{"x":{"field":"f","type":"quantitative"},"y":{"field":"v","type":"quantitative"},"text":{"field":"t"}}}
 ]},
 {"width":255,"height":281,"layer":[
  {"data":{"name":"pts"},"transform":[{"filter":"datum.p=='E'"}],"mark":{"type":"line","color":"black","strokeWidth":1.6},"encoding":{"x":{"field":"f","type":"quantitative","scale":{"domain":[-0.83,63.56],"nice":false,"zero":false},"axis":{"values":[8,16,24,32,40,48],"labels":false,"title":null}},"y":{"field":"v","type":"quantitative","scale":{"domain":[0,1200],"nice":false,"zero":false},"axis":{"values":[200,400,600,800],"title":null}}}},
  {"data":{"name":"pts"},"transform":[{"filter":"datum.p=='E'"}],"mark":{"type":"point","shape":"square","filled":true,"fill":"white","stroke":"black","strokeWidth":1.3,"size":40,"opacity":1},"encoding":{"x":{"field":"f","type":"quantitative"},"y":{"field":"v","type":"quantitative"}}},
  {"data":{"name":"ann"},"transform":[{"filter":"datum.p=='E' && datum.k=='rule'"}],"mark":{"type":"rule","color":"black","strokeWidth":2.2},"encoding":{"x":{"field":"f","type":"quantitative"},"x2":{"field":"f2"},"y":{"field":"v","type":"quantitative"},"y2":{"field":"v2"}}},
  {"data":{"name":"ann"},"transform":[{"filter":"datum.p=='E' && datum.k=='down'"}],"mark":{"type":"point","shape":"M-0.45,-1L0.45,-1L0,1Z","filled":true,"color":"black","size":225,"opacity":1},"encoding":{"x":{"field":"f","type":"quantitative"},"y":{"field":"v","type":"quantitative"}}},
  {"data":{"name":"ann"},"transform":[{"filter":"datum.p=='E' && datum.k=='diag'"}],"mark":{"type":"point","shape":"M-0.45,-1L0.45,-1L0,1Z","filled":true,"color":"black","size":225,"opacity":1,"angle":51},"encoding":{"x":{"field":"f","type":"quantitative"},"y":{"field":"v","type":"quantitative"}}},
  {"data":{"name":"ann"},"transform":[{"filter":"datum.p=='E' && datum.k=='letter'"}],"mark":{"type":"text","align":"left","fontSize":24},"encoding":{"x":{"field":"f","type":"quantitative"},"y":{"field":"v","type":"quantitative"},"text":{"field":"t"}}},
  {"data":{"name":"ann"},"transform":[{"filter":"datum.p=='E' && datum.k=='note'"}],"mark":{"type":"text","align":"left","fontSize":17},"encoding":{"x":{"field":"f","type":"quantitative"},"y":{"field":"v","type":"quantitative"},"text":{"field":"t"}}},
  {"data":{"name":"ann"},"transform":[{"filter":"datum.p=='E' && datum.k=='peak'"}],"mark":{"type":"text","align":"center","fontSize":17},"encoding":{"x":{"field":"f","type":"quantitative"},"y":{"field":"v","type":"quantitative"},"text":{"field":"t"}}}
 ]},
 {"width":257,"height":281,"layer":[
  {"data":{"name":"pts"},"transform":[{"filter":"datum.p=='G'"}],"mark":{"type":"line","color":"black","strokeWidth":1.6},"encoding":{"x":{"field":"f","type":"quantitative","scale":{"domain":[-0.8,49.6],"nice":false,"zero":false},"axis":{"values":[5,10,15,20,25,30,35,40,45],"labels":false,"title":null}},"y":{"field":"v","type":"quantitative","scale":{"domain":[0,810],"nice":false,"zero":false},"axis":{"values":[100,200,300,400,500,600,700,800],"format":"d","labelExpr":"datum.value % 200 == 0 && datum.value <= 600 ? datum.label : ''","title":null}}}},
  {"data":{"name":"pts"},"transform":[{"filter":"datum.p=='G'"}],"mark":{"type":"point","shape":"square","filled":true,"fill":"white","stroke":"black","strokeWidth":1.3,"size":40,"opacity":1},"encoding":{"x":{"field":"f","type":"quantitative"},"y":{"field":"v","type":"quantitative"}}},
  {"data":{"name":"ann"},"transform":[{"filter":"datum.p=='G' && datum.k=='rule'"}],"mark":{"type":"rule","color":"black","strokeWidth":2.2},"encoding":{"x":{"field":"f","type":"quantitative"},"x2":{"field":"f2"},"y":{"field":"v","type":"quantitative"},"y2":{"field":"v2"}}},
  {"data":{"name":"ann"},"transform":[{"filter":"datum.p=='G' && datum.k=='down'"}],"mark":{"type":"point","shape":"M-0.45,-1L0.45,-1L0,1Z","filled":true,"color":"black","size":225,"opacity":1},"encoding":{"x":{"field":"f","type":"quantitative"},"y":{"field":"v","type":"quantitative"}}},
  {"data":{"name":"ann"},"transform":[{"filter":"datum.p=='G' && datum.k=='diag'"}],"mark":{"type":"point","shape":"M-0.45,-1L0.45,-1L0,1Z","filled":true,"color":"black","size":225,"opacity":1,"angle":60},"encoding":{"x":{"field":"f","type":"quantitative"},"y":{"field":"v","type":"quantitative"}}},
  {"data":{"name":"ann"},"transform":[{"filter":"datum.p=='G' && datum.k=='letter'"}],"mark":{"type":"text","align":"left","fontSize":24},"encoding":{"x":{"field":"f","type":"quantitative"},"y":{"field":"v","type":"quantitative"},"text":{"field":"t"}}},
  {"data":{"name":"ann"},"transform":[{"filter":"datum.p=='G' && datum.k=='note'"}],"mark":{"type":"text","align":"left","fontSize":17},"encoding":{"x":{"field":"f","type":"quantitative"},"y":{"field":"v","type":"quantitative"},"text":{"field":"t"}}},
  {"data":{"name":"ann"},"transform":[{"filter":"datum.p=='G' && datum.k=='peak'"}],"mark":{"type":"text","align":"center","fontSize":17},"encoding":{"x":{"field":"f","type":"quantitative"},"y":{"field":"v","type":"quantitative"},"text":{"field":"t"}}}
 ]},
 {"width":263,"height":281,"resolve":{"scale":{"y":"independent"}},"layer":[
  {"layer":[
  {"data":{"name":"pts"},"transform":[{"filter":"datum.p=='I'"}],"mark":{"type":"line","color":"black","strokeWidth":1.6},"encoding":{"x":{"field":"f","type":"quantitative","scale":{"domain":[0,79.7],"nice":false,"zero":false},"axis":{"values":[10,20,30,40,50,60,70],"labels":false,"title":null}},"y":{"field":"v","type":"quantitative","scale":{"domain":[0,1200],"nice":false,"zero":false},"axis":{"orient":"left","values":[200,400,600,800],"title":null}}}},
  {"data":{"name":"pts"},"transform":[{"filter":"datum.p=='I'"}],"mark":{"type":"point","shape":"square","filled":true,"fill":"white","stroke":"black","strokeWidth":1.3,"size":40,"opacity":1},"encoding":{"x":{"field":"f","type":"quantitative"},"y":{"field":"v","type":"quantitative"}}},
  {"data":{"name":"ann"},"transform":[{"filter":"datum.p=='I' && datum.k=='rule'"}],"mark":{"type":"rule","color":"black","strokeWidth":2.2},"encoding":{"x":{"field":"f","type":"quantitative"},"x2":{"field":"f2"},"y":{"field":"v","type":"quantitative"},"y2":{"field":"v2"}}},
  {"data":{"name":"ann"},"transform":[{"filter":"datum.p=='I' && datum.k=='down'"}],"mark":{"type":"point","shape":"M-0.45,-1L0.45,-1L0,1Z","filled":true,"color":"black","size":225,"opacity":1},"encoding":{"x":{"field":"f","type":"quantitative"},"y":{"field":"v","type":"quantitative"}}},
  {"data":{"name":"ann"},"transform":[{"filter":"datum.p=='I' && datum.k=='letter'"}],"mark":{"type":"text","align":"left","fontSize":24},"encoding":{"x":{"field":"f","type":"quantitative"},"y":{"field":"v","type":"quantitative"},"text":{"field":"t"}}},
  {"data":{"name":"ann"},"transform":[{"filter":"datum.p=='I' && datum.k=='note'"}],"mark":{"type":"text","align":"left","fontSize":17},"encoding":{"x":{"field":"f","type":"quantitative"},"y":{"field":"v","type":"quantitative"},"text":{"field":"t"}}},
  {"data":{"name":"ann"},"transform":[{"filter":"datum.p=='I' && datum.k=='peak'"}],"mark":{"type":"text","align":"center","fontSize":17},"encoding":{"x":{"field":"f","type":"quantitative"},"y":{"field":"v","type":"quantitative"},"text":{"field":"t"}}}
  ]},
  {"data":{"values":[{"v":0},{"v":810}]},"mark":{"type":"point","opacity":0},"encoding":{"y":{"field":"v","type":"quantitative","scale":{"domain":[0,810],"nice":false,"zero":false},"axis":{"orient":"left","offset":-263,"values":[100,200,300,400,500,600,700,800],"format":"d","labelExpr":"datum.value % 200 == 0 && datum.value <= 600 ? datum.label : ''","title":null}}}}
 ]},
 {"width":50,"height":280,"view":{"stroke":null},"data":{"values":[{"t":"Mutant N68T virus"}]},"mark":{"type":"text","angle":270,"fontSize":24,"dy":-2},"encoding":{"text":{"field":"t"}}},
 {"width":255,"height":280,"layer":[
  {"data":{"name":"pts"},"transform":[{"filter":"datum.p=='B1'"}],"mark":{"type":"line","color":"black","strokeWidth":1.6},"encoding":{"x":{"field":"f","type":"quantitative","scale":{"domain":[0,38.5],"nice":false,"zero":false},"axis":null},"y":{"field":"v","type":"quantitative","scale":{"domain":[0,8120],"nice":false,"zero":false},"axis":null}}},
  {"data":{"name":"pts"},"transform":[{"filter":"datum.p=='B2'"}],"mark":{"type":"line","color":"black","strokeWidth":1.6},"encoding":{"x":{"field":"f","type":"quantitative"},"y":{"field":"v","type":"quantitative"}}},
  {"data":{"name":"pts"},"transform":[{"filter":"datum.p=='B2'"}],"mark":{"type":"point","shape":"circle","filled":true,"fill":"white","stroke":"black","strokeWidth":1.3,"size":40,"opacity":1},"encoding":{"x":{"field":"f","type":"quantitative"},"y":{"field":"v","type":"quantitative"}}},
  {"data":{"name":"pts"},"transform":[{"filter":"datum.p=='B1'"}],"mark":{"type":"point","shape":"triangle-up","filled":true,"color":"black","size":50,"opacity":1},"encoding":{"x":{"field":"f","type":"quantitative"},"y":{"field":"v","type":"quantitative"}}},
  {"data":{"name":"ann"},"transform":[{"filter":"datum.p=='B' && datum.k=='rule'"}],"mark":{"type":"rule","color":"black","strokeWidth":2.2},"encoding":{"x":{"field":"f","type":"quantitative"},"x2":{"field":"f2"},"y":{"field":"v","type":"quantitative"},"y2":{"field":"v2"}}},
  {"data":{"name":"ann"},"transform":[{"filter":"datum.p=='B' && datum.k=='down'"}],"mark":{"type":"point","shape":"M-0.45,-1L0.45,-1L0,1Z","filled":true,"color":"black","size":225,"opacity":1},"encoding":{"x":{"field":"f","type":"quantitative"},"y":{"field":"v","type":"quantitative"}}},
  {"data":{"name":"ann"},"transform":[{"filter":"datum.p=='B' && datum.k=='letter'"}],"mark":{"type":"text","align":"left","fontSize":24},"encoding":{"x":{"field":"f","type":"quantitative"},"y":{"field":"v","type":"quantitative"},"text":{"field":"t"}}},
  {"data":{"name":"ann"},"transform":[{"filter":"datum.p=='B' && datum.k=='note'"}],"mark":{"type":"text","align":"left","fontSize":17},"encoding":{"x":{"field":"f","type":"quantitative"},"y":{"field":"v","type":"quantitative"},"text":{"field":"t"}}},
  {"data":{"name":"ann"},"transform":[{"filter":"datum.p=='B' && datum.k=='peakl'"}],"mark":{"type":"text","align":"left","fontSize":17},"encoding":{"x":{"field":"f","type":"quantitative"},"y":{"field":"v","type":"quantitative"},"text":{"field":"t"}}}
 ]},
 {"width":255,"height":280,"layer":[
  {"data":{"name":"pts"},"transform":[{"filter":"datum.p=='D'"}],"mark":{"type":"line","color":"black","strokeWidth":1.6},"encoding":{"x":{"field":"f","type":"quantitative","scale":{"domain":[-0.4,49.6],"nice":false,"zero":false},"axis":{"values":[5,10,15,20,25,30,35,40,45],"labels":false,"title":null}},"y":{"field":"v","type":"quantitative","scale":{"domain":[0,8120],"nice":false,"zero":false},"axis":{"values":[2000,4000,6000],"format":"d","title":null}}}},
  {"data":{"name":"pts"},"transform":[{"filter":"datum.p=='D'"}],"mark":{"type":"point","shape":"circle","filled":true,"fill":"white","stroke":"black","strokeWidth":1.3,"size":40,"opacity":1},"encoding":{"x":{"field":"f","type":"quantitative"},"y":{"field":"v","type":"quantitative"}}},
  {"data":{"name":"ann"},"transform":[{"filter":"datum.p=='D' && datum.k=='rule'"}],"mark":{"type":"rule","color":"black","strokeWidth":2.2},"encoding":{"x":{"field":"f","type":"quantitative"},"x2":{"field":"f2"},"y":{"field":"v","type":"quantitative"},"y2":{"field":"v2"}}},
  {"data":{"name":"ann"},"transform":[{"filter":"datum.p=='D' && datum.k=='down'"}],"mark":{"type":"point","shape":"M-0.45,-1L0.45,-1L0,1Z","filled":true,"color":"black","size":225,"opacity":1},"encoding":{"x":{"field":"f","type":"quantitative"},"y":{"field":"v","type":"quantitative"}}},
  {"data":{"name":"ann"},"transform":[{"filter":"datum.p=='D' && datum.k=='diag'"}],"mark":{"type":"point","shape":"M-0.45,-1L0.45,-1L0,1Z","filled":true,"color":"black","size":225,"opacity":1,"angle":25},"encoding":{"x":{"field":"f","type":"quantitative"},"y":{"field":"v","type":"quantitative"}}},
  {"data":{"name":"ann"},"transform":[{"filter":"datum.p=='D' && datum.k=='letter'"}],"mark":{"type":"text","align":"left","fontSize":24},"encoding":{"x":{"field":"f","type":"quantitative"},"y":{"field":"v","type":"quantitative"},"text":{"field":"t"}}},
  {"data":{"name":"ann"},"transform":[{"filter":"datum.p=='D' && datum.k=='note'"}],"mark":{"type":"text","align":"left","fontSize":17},"encoding":{"x":{"field":"f","type":"quantitative"},"y":{"field":"v","type":"quantitative"},"text":{"field":"t"}}},
  {"data":{"name":"ann"},"transform":[{"filter":"datum.p=='D' && datum.k=='peak'"}],"mark":{"type":"text","align":"center","fontSize":17},"encoding":{"x":{"field":"f","type":"quantitative"},"y":{"field":"v","type":"quantitative"},"text":{"field":"t"}}}
 ]},
 {"width":255,"height":280,"layer":[
  {"data":{"name":"pts"},"transform":[{"filter":"datum.p=='F'"}],"mark":{"type":"line","color":"black","strokeWidth":1.6},"encoding":{"x":{"field":"f","type":"quantitative","scale":{"domain":[-0.83,63.56],"nice":false,"zero":false},"axis":{"values":[8,16,24,32,40,48],"labels":false,"title":null}},"y":{"field":"v","type":"quantitative","scale":{"domain":[0,1196],"nice":false,"zero":false},"axis":{"values":[200,400,600,800],"title":null}}}},
  {"data":{"name":"pts"},"transform":[{"filter":"datum.p=='F'"}],"mark":{"type":"point","shape":"circle","filled":true,"fill":"white","stroke":"black","strokeWidth":1.3,"size":40,"opacity":1},"encoding":{"x":{"field":"f","type":"quantitative"},"y":{"field":"v","type":"quantitative"}}},
  {"data":{"name":"ann"},"transform":[{"filter":"datum.p=='F' && datum.k=='rule'"}],"mark":{"type":"rule","color":"black","strokeWidth":2.2},"encoding":{"x":{"field":"f","type":"quantitative"},"x2":{"field":"f2"},"y":{"field":"v","type":"quantitative"},"y2":{"field":"v2"}}},
  {"data":{"name":"ann"},"transform":[{"filter":"datum.p=='F' && datum.k=='down'"}],"mark":{"type":"point","shape":"M-0.45,-1L0.45,-1L0,1Z","filled":true,"color":"black","size":225,"opacity":1},"encoding":{"x":{"field":"f","type":"quantitative"},"y":{"field":"v","type":"quantitative"}}},
  {"data":{"name":"ann"},"transform":[{"filter":"datum.p=='F' && datum.k=='diag'"}],"mark":{"type":"point","shape":"M-0.45,-1L0.45,-1L0,1Z","filled":true,"color":"black","size":225,"opacity":1,"angle":51},"encoding":{"x":{"field":"f","type":"quantitative"},"y":{"field":"v","type":"quantitative"}}},
  {"data":{"name":"ann"},"transform":[{"filter":"datum.p=='F' && datum.k=='letter'"}],"mark":{"type":"text","align":"left","fontSize":24},"encoding":{"x":{"field":"f","type":"quantitative"},"y":{"field":"v","type":"quantitative"},"text":{"field":"t"}}},
  {"data":{"name":"ann"},"transform":[{"filter":"datum.p=='F' && datum.k=='note'"}],"mark":{"type":"text","align":"left","fontSize":17},"encoding":{"x":{"field":"f","type":"quantitative"},"y":{"field":"v","type":"quantitative"},"text":{"field":"t"}}},
  {"data":{"name":"ann"},"transform":[{"filter":"datum.p=='F' && datum.k=='peak'"}],"mark":{"type":"text","align":"center","fontSize":17},"encoding":{"x":{"field":"f","type":"quantitative"},"y":{"field":"v","type":"quantitative"},"text":{"field":"t"}}}
 ]},
 {"width":257,"height":280,"layer":[
  {"data":{"name":"pts"},"transform":[{"filter":"datum.p=='H'"}],"mark":{"type":"line","color":"black","strokeWidth":1.6},"encoding":{"x":{"field":"f","type":"quantitative","scale":{"domain":[-0.8,49.6],"nice":false,"zero":false},"axis":{"values":[5,10,15,20,25,30,35,40,45],"labels":false,"title":null}},"y":{"field":"v","type":"quantitative","scale":{"domain":[0,807],"nice":false,"zero":false},"axis":{"values":[200,400,600],"title":null}}}},
  {"data":{"name":"pts"},"transform":[{"filter":"datum.p=='H'"}],"mark":{"type":"point","shape":"circle","filled":true,"fill":"white","stroke":"black","strokeWidth":1.3,"size":40,"opacity":1},"encoding":{"x":{"field":"f","type":"quantitative"},"y":{"field":"v","type":"quantitative"}}},
  {"data":{"name":"ann"},"transform":[{"filter":"datum.p=='H' && datum.k=='rule'"}],"mark":{"type":"rule","color":"black","strokeWidth":2.2},"encoding":{"x":{"field":"f","type":"quantitative"},"x2":{"field":"f2"},"y":{"field":"v","type":"quantitative"},"y2":{"field":"v2"}}},
  {"data":{"name":"ann"},"transform":[{"filter":"datum.p=='H' && datum.k=='down'"}],"mark":{"type":"point","shape":"M-0.45,-1L0.45,-1L0,1Z","filled":true,"color":"black","size":225,"opacity":1},"encoding":{"x":{"field":"f","type":"quantitative"},"y":{"field":"v","type":"quantitative"}}},
  {"data":{"name":"ann"},"transform":[{"filter":"datum.p=='H' && datum.k=='diag'"}],"mark":{"type":"point","shape":"M-0.45,-1L0.45,-1L0,1Z","filled":true,"color":"black","size":225,"opacity":1,"angle":57},"encoding":{"x":{"field":"f","type":"quantitative"},"y":{"field":"v","type":"quantitative"}}},
  {"data":{"name":"ann"},"transform":[{"filter":"datum.p=='H' && datum.k=='letter'"}],"mark":{"type":"text","align":"left","fontSize":24},"encoding":{"x":{"field":"f","type":"quantitative"},"y":{"field":"v","type":"quantitative"},"text":{"field":"t"}}},
  {"data":{"name":"ann"},"transform":[{"filter":"datum.p=='H' && datum.k=='note'"}],"mark":{"type":"text","align":"left","fontSize":17},"encoding":{"x":{"field":"f","type":"quantitative"},"y":{"field":"v","type":"quantitative"},"text":{"field":"t"}}},
  {"data":{"name":"ann"},"transform":[{"filter":"datum.p=='H' && datum.k=='peak'"}],"mark":{"type":"text","align":"center","fontSize":17},"encoding":{"x":{"field":"f","type":"quantitative"},"y":{"field":"v","type":"quantitative"},"text":{"field":"t"}}}
 ]},
 {"width":263,"height":280,"resolve":{"scale":{"y":"independent"}},"layer":[
  {"layer":[
  {"data":{"name":"pts"},"transform":[{"filter":"datum.p=='J'"}],"mark":{"type":"line","color":"black","strokeWidth":1.6},"encoding":{"x":{"field":"f","type":"quantitative","scale":{"domain":[0,79.7],"nice":false,"zero":false},"axis":{"values":[10,20,30,40,50,60,70],"labels":false,"title":null}},"y":{"field":"v","type":"quantitative","scale":{"domain":[0,1196],"nice":false,"zero":false},"axis":{"orient":"left","values":[200,400,600,800],"title":null}}}},
  {"data":{"name":"pts"},"transform":[{"filter":"datum.p=='J'"}],"mark":{"type":"point","shape":"circle","filled":true,"fill":"white","stroke":"black","strokeWidth":1.3,"size":40,"opacity":1},"encoding":{"x":{"field":"f","type":"quantitative"},"y":{"field":"v","type":"quantitative"}}},
  {"data":{"name":"ann"},"transform":[{"filter":"datum.p=='J' && datum.k=='rule'"}],"mark":{"type":"rule","color":"black","strokeWidth":2.2},"encoding":{"x":{"field":"f","type":"quantitative"},"x2":{"field":"f2"},"y":{"field":"v","type":"quantitative"},"y2":{"field":"v2"}}},
  {"data":{"name":"ann"},"transform":[{"filter":"datum.p=='J' && datum.k=='down'"}],"mark":{"type":"point","shape":"M-0.45,-1L0.45,-1L0,1Z","filled":true,"color":"black","size":225,"opacity":1},"encoding":{"x":{"field":"f","type":"quantitative"},"y":{"field":"v","type":"quantitative"}}},
  {"data":{"name":"ann"},"transform":[{"filter":"datum.p=='J' && datum.k=='letter'"}],"mark":{"type":"text","align":"left","fontSize":24},"encoding":{"x":{"field":"f","type":"quantitative"},"y":{"field":"v","type":"quantitative"},"text":{"field":"t"}}},
  {"data":{"name":"ann"},"transform":[{"filter":"datum.p=='J' && datum.k=='note'"}],"mark":{"type":"text","align":"left","fontSize":17},"encoding":{"x":{"field":"f","type":"quantitative"},"y":{"field":"v","type":"quantitative"},"text":{"field":"t"}}},
  {"data":{"name":"ann"},"transform":[{"filter":"datum.p=='J' && datum.k=='peak'"}],"mark":{"type":"text","align":"center","fontSize":17},"encoding":{"x":{"field":"f","type":"quantitative"},"y":{"field":"v","type":"quantitative"},"text":{"field":"t"}}}
  ]},
  {"data":{"values":[{"v":0},{"v":807}]},"mark":{"type":"point","opacity":0},"encoding":{"y":{"field":"v","type":"quantitative","scale":{"domain":[0,807],"nice":false,"zero":false},"axis":{"orient":"left","offset":-263,"values":[100,200,300,400,500,600,700,800],"format":"d","labelExpr":"datum.value % 200 == 0 && datum.value <= 600 ? datum.label : ''","title":null}}}}
 ]}
]},
{"width":1335,"height":16,"view":{"stroke":null},"data":{"name":"foot"},"layer":[
 {"transform":[{"filter":"datum.k=='text'"}],"mark":{"type":"text","fontSize":22},"encoding":{"x":{"field":"p","type":"quantitative","scale":{"domain":[0,100],"nice":false,"zero":false},"axis":null},"y":{"field":"q","type":"quantitative","scale":{"domain":[-8,-2],"nice":false,"zero":false},"axis":null},"text":{"field":"t"}}},
 {"transform":[{"filter":"datum.k=='rule'"}],"mark":{"type":"rule","color":"black","strokeWidth":3},"encoding":{"x":{"field":"p","type":"quantitative"},"x2":{"field":"p2"},"y":{"field":"q","type":"quantitative"}}},
 {"transform":[{"filter":"datum.k=='head'"}],"mark":{"type":"point","shape":"M-1,-0.45L1,0L-1,0.45Z","filled":true,"color":"black","size":300,"opacity":1},"encoding":{"x":{"field":"p","type":"quantitative"},"y":{"field":"q","type":"quantitative"}}}
]}
]
}
